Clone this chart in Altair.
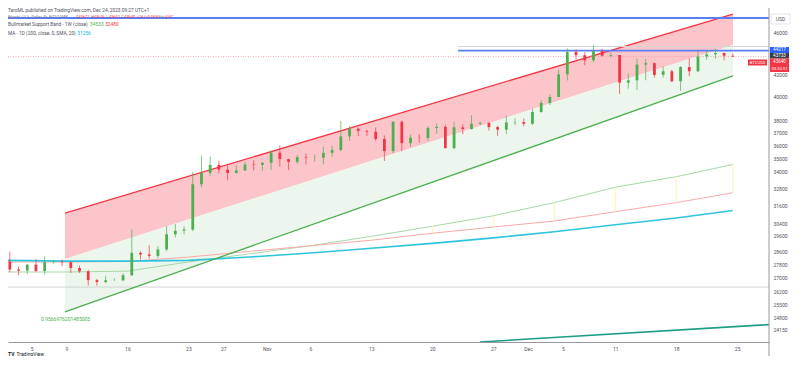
import altair as alt
import pandas as pd
import numpy as np

# ---------------- data ----------------
dates = pd.date_range("2023-10-02", "2023-12-24", freq="D").strftime("%Y-%m-%d").tolist()

opens = [27980, 27500, 27430, 27790, 27410, 27940, 27960, 27930, 27590, 27390, 26870, 26760, 26860, 26860, 27160,
         28510, 28410, 28320, 28720, 29680, 29910, 29990, 33080, 33910, 34500, 34150, 33900, 34090, 34530, 34500,
         34660, 35430, 34940, 34730, 35080, 35040, 35050, 35420, 35640, 36700, 37320, 37140, 37070, 36500, 35550,
         37880, 36170, 36600, 36580, 37380, 37470, 35780, 37430, 37290, 37720, 37800, 37450, 37240, 37830, 37860,
         37720, 38690, 39470, 39980, 41990, 44080, 43770, 43290, 44170, 43720, 43790, 41240, 41450, 42890, 43020,
         41940, 42270, 41370, 42660, 42270, 43660, 43860, 43980, 43720]
highs = [28590, 27670, 27830, 28120, 28290, 28040, 28100, 27990, 27740, 27480, 26940, 27120, 26980, 27280, 30000,
         28610, 28980, 28920, 30210, 30350, 30200, 33980, 35200, 35130, 34830, 34490, 34470, 34760, 34850, 34720,
         35580, 35980, 34950, 35260, 35380, 35290, 35890, 35980, 37950, 37530, 37410, 37230, 37420, 36780, 37960,
         37990, 36850, 36860, 37530, 37770, 37640, 37870, 37680, 38430, 37900, 37830, 37570, 38400, 38160, 38170,
         38980, 39700, 40220, 42420, 44440, 44300, 44050, 44730, 44390, 44050, 43800, 42070, 43450, 43420, 43090,
         42730, 42430, 42750, 43480, 44280, 44240, 44390, 44020, 43950]
lows = [27340, 27160, 27220, 27360, 27190, 27850, 27700, 27290, 27300, 26560, 26550, 26690, 26820, 26820, 27110,
        28100, 28150, 28180, 28610, 29480, 29680, 29880, 32860, 33700, 33880, 33380, 33870, 34050, 34100, 34070,
        34120, 34360, 34120, 34580, 34530, 34740, 34540, 35120, 35540, 36340, 36730, 36740, 36340, 34800, 35380,
        35540, 35870, 36190, 36350, 36900, 35760, 35680, 36880, 37260, 37620, 37180, 36740, 36900, 37600, 37510,
        37630, 38660, 39300, 39980, 41440, 43350, 42840, 43100, 43630, 43580, 40250, 40700, 40600, 41450, 41700,
        41690, 41260, 40520, 41820, 42200, 43320, 43420, 43290, 43590]
closes = [27500, 27430, 27790, 27410, 27940, 27960, 27930, 27590, 27390, 26870, 26760, 26860, 26860, 27160, 28510,
          28410, 28320, 28720, 29680, 29910, 29990, 33080, 33910, 34500, 34150, 33900, 34090, 34530, 34500, 34660,
          35430, 34940, 34730, 35080, 35040, 35050, 35420, 35640, 36700, 37320, 37140, 37070, 36500, 35550, 37880,
          36170, 36600, 36580, 37380, 37470, 35780, 37430, 37290, 37720, 37800, 37450, 37240, 37830, 37860, 37720,
          38690, 39470, 39980, 41990, 44080, 43770, 43290, 44170, 43720, 43790, 41240, 41450, 42890, 43020, 41940,
          42270, 41370, 42660, 42270, 43660, 43860, 43980, 43720, 43640]

# weekly indicator points
week_dates = ["2023-10-02", "2023-10-09", "2023-10-16", "2023-10-23", "2023-10-30", "2023-11-06", "2023-11-13",
              "2023-11-20", "2023-11-27", "2023-12-04", "2023-12-11", "2023-12-18", "2023-12-24 12:00"]
ema21w = [27350, 27350, 27400, 27950, 28450, 28950, 29550, 30200, 30900, 31790, 32870, 33630, 34533]
sma20w = [27950, 27950, 27980, 28250, 28600, 28950, 29300, 29750, 30150, 30550, 31170, 31790, 32480]
ma200d = [28050, 28000, 28000, 28050, 28250, 28500, 28800, 29100, 29450, 29850, 30300, 30750, 31256]

# parallel channel drawing
chan_dates = ["2023-10-08 20:00", "2023-12-24 12:30"]
chan_upper = [31083, 47862]
chan_mid = [28130, 44750]
chan_lower = [25080, 41843]
chan_label = "0.9566976201485005"
chan_label_pos = ("2023-10-06 02:00", 24695)

# long trend line (bottom)
trend_dates = ["2023-11-25 11:30", "2023-12-28 16:00"]
trend_prices = [23497, 24400]

# horizontal levels
level_top = 47450
ray_start = "2023-11-22 23:00"
ray_blue = 44217
ray_grey = 44605
level_low = 26470
last_price = 43640

price_ticks = [46000, 42000, 40000, 38000, 37000, 36000, 35000, 34000, 32800, 31600, 30400, 29600, 28600,
               27800, 27000, 26200, 25500, 24800, 24150]
date_ticks = ["2023-10-05", "2023-10-09", "2023-10-16", "2023-10-23", "2023-10-27", "2023-11-01", "2023-11-06",
              "2023-11-13", "2023-11-20", "2023-11-27", "2023-12-01", "2023-12-05", "2023-12-11", "2023-12-18",
              "2023-12-25"]
date_tick_labels = ["5", "9", "16", "23", "27", "Nov", "6", "13", "20", "27", "Dec", "5", "11", "18", "25"]

# ---------------- helpers ----------------
ORIGIN = pd.Timestamp("2023-10-01")


def day(s):
    return (pd.Timestamp(s) - ORIGIN) / pd.Timedelta(days=1)


FONT = "Roboto"
UP, DOWN = "#4caf50", "#f23645"
GREY = "#50535e"
W, H = 761, 329
XS = alt.Scale(domain=[1.291, 88.653], nice=False, zero=False)
YS = alt.Scale(type="log", domain=[23497, 47967], nice=False, zero=False)

tick_days = [day(s) for s in date_ticks]
expr = " : ".join([f"datum.value == {v} ? '{t}'" for v, t in zip(tick_days, date_tick_labels)]) + " : ''"
AX_X = alt.Axis(values=tick_days, labelExpr=expr, title=None, grid=False, ticks=False,
                domain=True, domainColor="#9598a1", domainWidth=1, labelFontSize=5,
                labelFont=FONT, labelColor=GREY, labelPadding=4.5, labelOverlap=False)
AX_Y = alt.Axis(orient="right", values=price_ticks, format="d", title=None,
                grid=False, ticks=False, domain=False, labelFontSize=5,
                labelFont=FONT, labelColor=GREY, labelPadding=4,
                labelOverlap=False, labelBaseline="middle")


def X(f):
    return alt.X(f, type="quantitative", scale=XS, axis=AX_X)


def Y(f):
    return alt.Y(f, type="quantitative", scale=YS, axis=AX_Y)


# ---------------- frames ----------------
cd = pd.DataFrame({"date": dates, "o": opens, "h": highs, "l": lows, "c": closes})
cd["d"] = [day(s) for s in dates]
cd["xc"] = cd["d"] + 0.5
cd["x0"] = cd["d"] + 0.34
cd["x1"] = cd["d"] + 0.66
cd["dir"] = np.where(cd["c"] >= cd["o"], "up", "down")

wk = pd.DataFrame({"d": [day(s) for s in week_dates], "ema": ema21w, "sma": sma20w, "ma": ma200d})
ch = pd.DataFrame({"d": [day(s) for s in chan_dates], "up": chan_upper, "mid": chan_mid, "lo": chan_lower})
tr = pd.DataFrame({"d": [day(s) for s in trend_dates], "p": trend_prices})

col_scale = alt.Scale(domain=["up", "down"], range=[UP, DOWN])

layers = []

# channel fills
layers.append(alt.Chart(ch).mark_area(color="#fbc5ca", opacity=1).encode(x=X("d"), y=Y("up"), y2="mid"))
layers.append(alt.Chart(ch).mark_area(color="#ecf6ec", opacity=1).encode(x=X("d"), y=Y("mid"), y2="lo"))

# horizontal level (low)
layers.append(alt.Chart(pd.DataFrame({"p": [level_low]})).mark_rule(color="#d4d4d4", strokeWidth=1).encode(
    y=Y("p"), x=alt.value(0), x2=alt.value(W)))

# indicators
layers.append(alt.Chart(wk).mark_line(color="#a8d8a9", strokeWidth=1, clip=True).encode(x=X("d"), y=Y("ema")))
layers.append(alt.Chart(wk).mark_line(color="#f9a9a9", strokeWidth=1, clip=True).encode(x=X("d"), y=Y("sma")))
layers.append(alt.Chart(wk[wk["d"] > 20]).mark_rule(color="#fff3b0", strokeWidth=1).encode(
    x=X("d"), y=Y("sma"), y2="ema"))
layers.append(alt.Chart(wk).mark_line(color="#2fc4de", strokeWidth=1.6, clip=True).encode(x=X("d"), y=Y("ma")))

# channel lines
layers.append(alt.Chart(ch).mark_line(color="#f23645", strokeWidth=1.3).encode(x=X("d"), y=Y("up")))
layers.append(alt.Chart(ch).mark_line(color="#4caf50", strokeWidth=1.3).encode(x=X("d"), y=Y("lo")))
lbl = pd.DataFrame({"d": [day(chan_label_pos[0])], "p": [chan_label_pos[1]], "t": [chan_label]})
layers.append(alt.Chart(lbl).mark_text(align="left", baseline="middle", fontSize=5, font=FONT,
                                       color="#4caf50").encode(x=X("d"), y=Y("p"), text="t:N"))

# trend line bottom
layers.append(alt.Chart(tr).mark_line(color="#1f9c88", strokeWidth=1.6, clip=True).encode(x=X("d"), y=Y("p")))

# more levels
layers.append(alt.Chart(pd.DataFrame({"p": [level_top]})).mark_rule(color="#5b7cf2", strokeWidth=1.8).encode(
    y=Y("p"), x=alt.value(0), x2=alt.value(W)))
layers.append(alt.Chart(pd.DataFrame({"p": [ray_grey], "d": [day(ray_start)]})).mark_rule(
    color="#d6d6d6", strokeWidth=1).encode(y=Y("p"), x=X("d"), x2=alt.value(W)))
layers.append(alt.Chart(pd.DataFrame({"p": [ray_blue], "d": [day(ray_start)]})).mark_rule(
    color="#5b7cf2", strokeWidth=1.8).encode(y=Y("p"), x=X("d"), x2=alt.value(W)))
layers.append(alt.Chart(pd.DataFrame({"p": [last_price]})).mark_rule(
    color="#f59aa2", strokeWidth=0.8, strokeDash=[1, 1.5]).encode(y=Y("p"), x=alt.value(0), x2=alt.value(W)))

# candles
layers.append(alt.Chart(cd).mark_rule(strokeWidth=0.7, clip=True).encode(
    x=X("xc"), y=Y("l"), y2="h", color=alt.Color("dir:N", scale=col_scale, legend=None)))
layers.append(alt.Chart(cd).mark_rect(clip=True).encode(
    x=X("x0"), x2="x1", y=Y("o"), y2="c", color=alt.Color("dir:N", scale=col_scale, legend=None)))

# right border of the pane
layers.append(alt.Chart(pd.DataFrame({"a": [0]})).mark_rule(color="#9598a1", strokeWidth=1).encode(
    x=alt.value(W), y=alt.value(-5), y2=alt.value(343)))


# ---------------- pixel-placed annotations (legend / price tags) ----------------
def box(x0, x1, y0, y1, fill, stroke=None):
    kw = {"color": fill}
    if stroke:
        kw = {"fill": fill, "stroke": stroke, "strokeWidth": 0.6}
    return alt.Chart(pd.DataFrame({"a": [0]})).mark_rect(**kw).encode(
        x=alt.value(x0), x2=alt.value(x1), y=alt.value(y0), y2=alt.value(y1))


def txt(t, x, y, color, size=5, align="left", weight="normal"):
    return alt.Chart(pd.DataFrame({"t": [t]})).mark_text(
        align=align, baseline="middle", fontSize=size, font=FONT, color=color, fontWeight=weight).encode(
        x=alt.value(x), y=alt.value(y), text="t:N")


def est_width(s, size):
    w = 0.0
    for ch_ in s:
        if ch_.isdigit():
            w += 0.56
        elif ch_ == " ":
            w += 0.25
        elif ch_ in ".,:/()-%|":
            w += 0.3
        elif ch_.isupper():
            w += 0.64
        else:
            w += 0.5
    return w * size


def seq_line(parts, y, size, x=0.0, gap=1.6):
    out = []
    for t, c, g in parts:
        out.append(txt(t, x, y, c, size=size))
        x += est_width(t, size) + (gap if g else 0.2)
    return out


LG = "#787b86"
layers.append(txt("TaroML published on TradingView.com, Dec 24, 2023 09:27 UTC+1", 0, -2.5, GREY, size=4.8))
layers += seq_line([("Bitcoin / U.S. Dollar, 4h, BITSTAMP", LG, True),
                    ("O", LG, False), ("43672", DOWN, True),
                    ("H", LG, False), ("43676", DOWN, True),
                    ("L", LG, False), ("43602", DOWN, True),
                    ("C", LG, False), ("43640", DOWN, True),
                    ("\u221226 (\u22120.06%)", DOWN, True),
                    ("Vol", LG, False), ("4.87", DOWN, True)], 3.5, 3.9)
layers += seq_line([("Bullmarket Support Band - 1W (close)", GREY, True),
                    ("34533", UP, True), ("32480", DOWN, True)], 11.5, 4.8)
layers += seq_line([("MA - 1D (200, close, 0, SMA, 20)", GREY, True),
                    ("31256", "#00bcd4", True)], 20.5, 4.8)

# price tags on the axis
layers.append(box(763, 782, 1, 11, "white", "#d1d4dc"))
layers.append(txt("USD", 772.5, 6, GREY, align="center"))
layers.append(box(762, 781, 34, 40, "#2962ff"))
layers.append(txt("44217", 771.5, 37, "white", size=4.6, align="center"))
layers.append(box(762, 781, 40, 45.5, "#3b3e48"))
layers.append(txt("43733", 771.5, 42.8, "white", size=4.6, align="center"))
layers.append(box(762, 781, 45.5, 59, "#f23645"))
layers.append(txt("43640", 771.5, 49, "white", size=4.6, align="center"))
layers.append(txt("03:32:51", 771.5, 55.5, "white", size=4.2, align="center"))
layers.append(box(740, 759, 46.5, 52.5, "#f23645"))
layers.append(txt("BTCUSD", 749.5, 49.5, "white", size=4.2, align="center"))

# logo
layers.append(txt("TV", 0, 340.5, "#131722", size=5, weight="bold"))
layers.append(txt("TradingView", 8.5, 340.5, "#131722", size=5))

chart = alt.layer(*layers).properties(
    width=W, height=H,
    padding={"left": 0, "top": 5, "right": 22, "bottom": 14},
    autosize=alt.AutoSizeParams(type="none"),
    background="white",
).configure_view(stroke=None)

chart.save("out.html", embed_options={"renderer": "svg", "actions": False})
